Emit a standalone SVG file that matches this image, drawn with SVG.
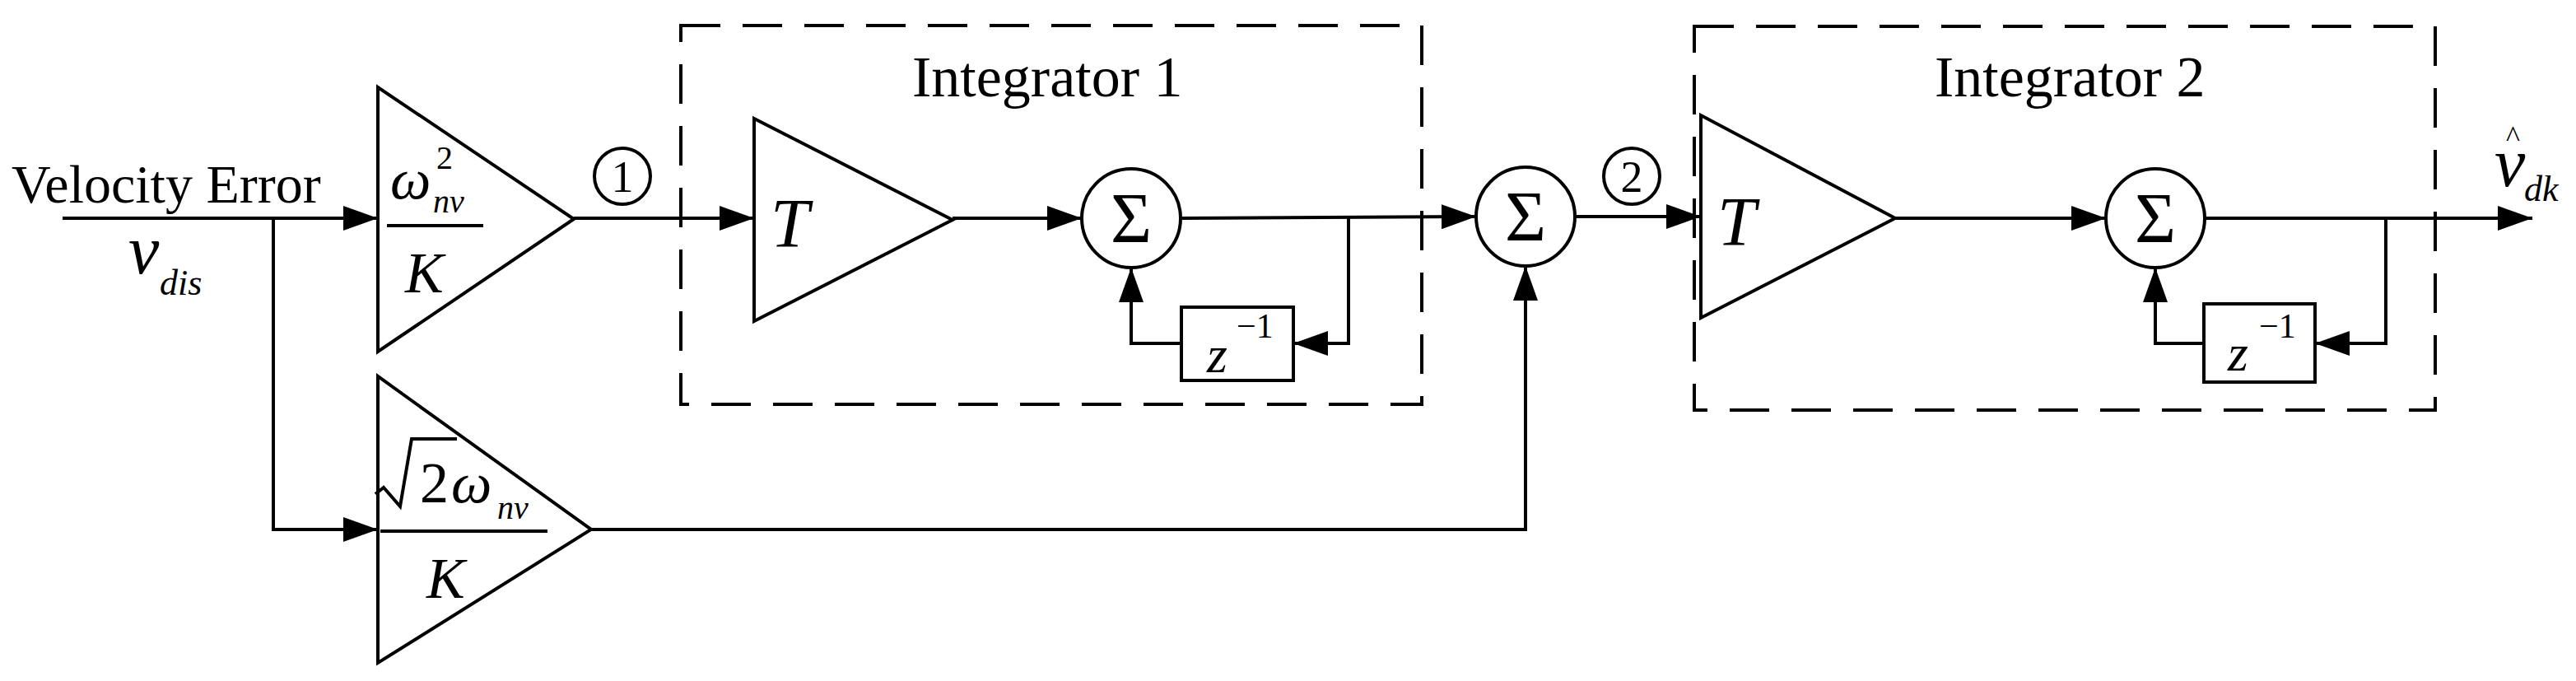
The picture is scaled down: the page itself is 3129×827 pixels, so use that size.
<svg xmlns="http://www.w3.org/2000/svg" width="3129" height="827" viewBox="0 0 3129 827">
<style>
.l{fill:none;stroke:#000;stroke-width:4}
.d{fill:none;stroke:#000;stroke-width:4;stroke-dasharray:48 27}
.t{font-family:"Liberation Serif",serif;fill:#000}
.i{font-family:"Liberation Serif",serif;font-style:italic;fill:#000}
.s{font-family:"Liberation Serif",serif;fill:#000;font-size:86px;text-anchor:middle}
</style>
<defs>
<marker id="a" markerUnits="userSpaceOnUse" markerWidth="42" markerHeight="30" refX="42" refY="15" orient="auto"><path d="M0,0 L42,15 L0,30 Z" fill="#000"/></marker>
</defs>
<rect width="3129" height="827" fill="#fff"/>
<g id="box1"><rect class="d" x="827" y="31" width="900" height="460"/><text class="t" x="1108" y="117" font-size="70">Integrator 1</text></g>
<g id="box2"><rect class="d" x="2058" y="32" width="900" height="466"/><text class="t" x="2350" y="117" font-size="70">Integrator 2</text></g>
<g id="input"><text class="t" x="14" y="246" font-size="66">Velocity Error</text><text class="i" x="156" y="332" font-size="84">v</text><text class="i" x="194" y="358" font-size="44">dis</text></g>
<g id="gain1"><path class="l" d="M459,106 L459,427 L697,266 Z"/><text class="i" x="474" y="241" font-size="70">ω</text><text class="t" x="530" y="205" font-size="40">2</text><text class="i" x="526" y="258" font-size="40">nv</text><line class="l" x1="470" y1="274" x2="587" y2="274"/><text class="i" x="492" y="355" font-size="70">K</text></g>
<g id="gain2"><path class="l" d="M459,457 L459,805 L718,643 Z"/><path class="l" stroke-width="3" d="M456,600 L466,592 L486,615 L500,533 L555,533"/><text class="t" x="510" y="610" font-size="70">2</text><text class="i" x="548" y="610" font-size="70">ω</text><text class="i" x="604" y="630" font-size="40">nv</text><line class="l" x1="462" y1="645" x2="665" y2="645"/><text class="i" x="518" y="726" font-size="70">K</text></g>
<g id="T1"><path class="l" d="M916,144 L916,390 L1157,267 Z"/><text class="i" x="936" y="300" font-size="84">T</text></g>
<g id="sum1"><circle class="l" cx="1374" cy="265" r="60"/><text class="s" x="1374" y="294">Σ</text></g>
<g id="z1"><rect class="l" x="1435" y="373" width="136" height="89"/><text class="i" x="1466" y="452" font-size="64">z</text><text class="t" x="1502" y="410" font-size="42">−1</text></g>
<g id="sum2"><circle class="l" cx="1853" cy="263" r="60"/><text class="s" x="1853" y="292">Σ</text></g>
<g id="T2"><path class="l" d="M2066,140 L2066,386 L2302,265 Z"/><text class="i" x="2086" y="298" font-size="84">T</text></g>
<g id="sum3"><circle class="l" cx="2618" cy="265" r="60"/><text class="s" x="2618" y="294">Σ</text></g>
<g id="z2"><rect class="l" x="2677" y="369" width="135" height="95"/><text class="i" x="2706" y="450" font-size="64">z</text><text class="t" x="2744" y="410" font-size="42">−1</text></g>
<g id="label1"><circle class="l" stroke-width="2.5" cx="756" cy="214" r="34"/><text class="t" x="756" y="233" font-size="54" text-anchor="middle">1</text></g>
<g id="label2"><circle class="l" stroke-width="2.5" cx="1982" cy="214" r="34"/><text class="t" x="1982" y="233" font-size="54" text-anchor="middle">2</text></g>
<g id="output"><text class="i" x="3030" y="226" font-size="84">v</text><text class="t" x="3044" y="178" font-size="36">^</text><text class="i" x="3066" y="244" font-size="44">dk</text></g>
<g id="connectors">
<path class="l" marker-end="url(#a)" d="M76,265 L459,265"/>
<path class="l" marker-end="url(#a)" d="M332,265 L332,643 L459,643"/>
<path class="l" marker-end="url(#a)" d="M697,265 L916,265"/>
<path class="l" marker-end="url(#a)" d="M1157,265 L1314,265"/>
<path class="l" marker-end="url(#a)" d="M1434,265 L1793,263"/>
<path class="l" marker-end="url(#a)" d="M1638,264 L1638,417 L1571,417"/>
<path class="l" marker-end="url(#a)" d="M1435,417 L1374,417 L1374,325"/>
<path class="l" marker-end="url(#a)" d="M718,643 L1853,643 L1853,323"/>
<path class="l" marker-end="url(#a)" d="M1913,263 L2066,263"/>
<path class="l" marker-end="url(#a)" d="M2302,265 L2558,265"/>
<path class="l" marker-end="url(#a)" d="M2678,265 L3076,265"/>
<path class="l" marker-end="url(#a)" d="M2898,265 L2898,417 L2812,417"/>
<path class="l" marker-end="url(#a)" d="M2677,417 L2618,417 L2618,325"/>
</g>
</svg>
